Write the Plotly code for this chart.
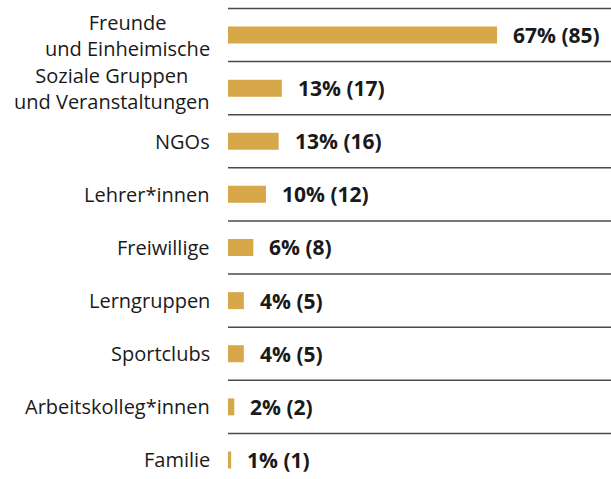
import plotly.graph_objects as go

categories = ["Freunde<br>und Einheimische", "Soziale Gruppen<br>und Veranstaltungen", "NGOs",
              "Lehrer*innen", "Freiwillige", "Lerngruppen", "Sportclubs",
              "Arbeitskolleg*innen", "Familie"]
percents = [67, 13, 13, 10, 6, 4, 4, 2, 1]
counts = [85, 17, 16, 12, 8, 5, 5, 2, 1]

BAR = "#D6A84A"
TXT = "#1a1a1a"
FONT = "Open Sans, sans-serif"

ypos = list(range(len(categories)))

fig = go.Figure(go.Bar(
    x=counts, y=ypos, orientation="h",
    marker=dict(color=BAR, line=dict(width=0)),
    width=0.32, hoverinfo="skip",
))

annotations = []
for i, (p, c) in enumerate(zip(percents, counts)):
    annotations.append(dict(
        x=c, y=i, xref="x", yref="y", text=f"<b>{p}% ({c})</b>",
        showarrow=False, xanchor="left", yanchor="middle", xshift=14,
        font=dict(size=21, color=TXT, family=FONT),
    ))

for i, cat in enumerate(categories):
    annotations.append(dict(
        x=0, y=i, xref="paper", yref="y", text=cat, showarrow=False,
        xanchor="right", yanchor="middle", align="center", xshift=-16,
        font=dict(size=20, color=TXT, family=FONT),
    ))

shapes = []
for i in range(len(categories)):
    shapes.append(dict(type="line", xref="paper", x0=0, x1=1, yref="y",
                       y0=i - 0.5, y1=i - 0.5,
                       line=dict(color="#4a4a4a", width=1.5)))

fig.update_layout(
    width=611, height=479,
    margin=dict(l=228, r=0, t=0, b=0),
    paper_bgcolor="white", plot_bgcolor="white",
    showlegend=False,
    font=dict(family=FONT, color=TXT),
    xaxis=dict(range=[0, 121], visible=False, fixedrange=True),
    yaxis=dict(range=[8.358, -0.659], showticklabels=False, showgrid=False,
               zeroline=False, showline=False, ticks="", fixedrange=True),
    annotations=annotations, shapes=shapes,
)

fig.write_html("out.html", config={"displayModeBar": False},
               post_script="document.body.style.margin='0';")
